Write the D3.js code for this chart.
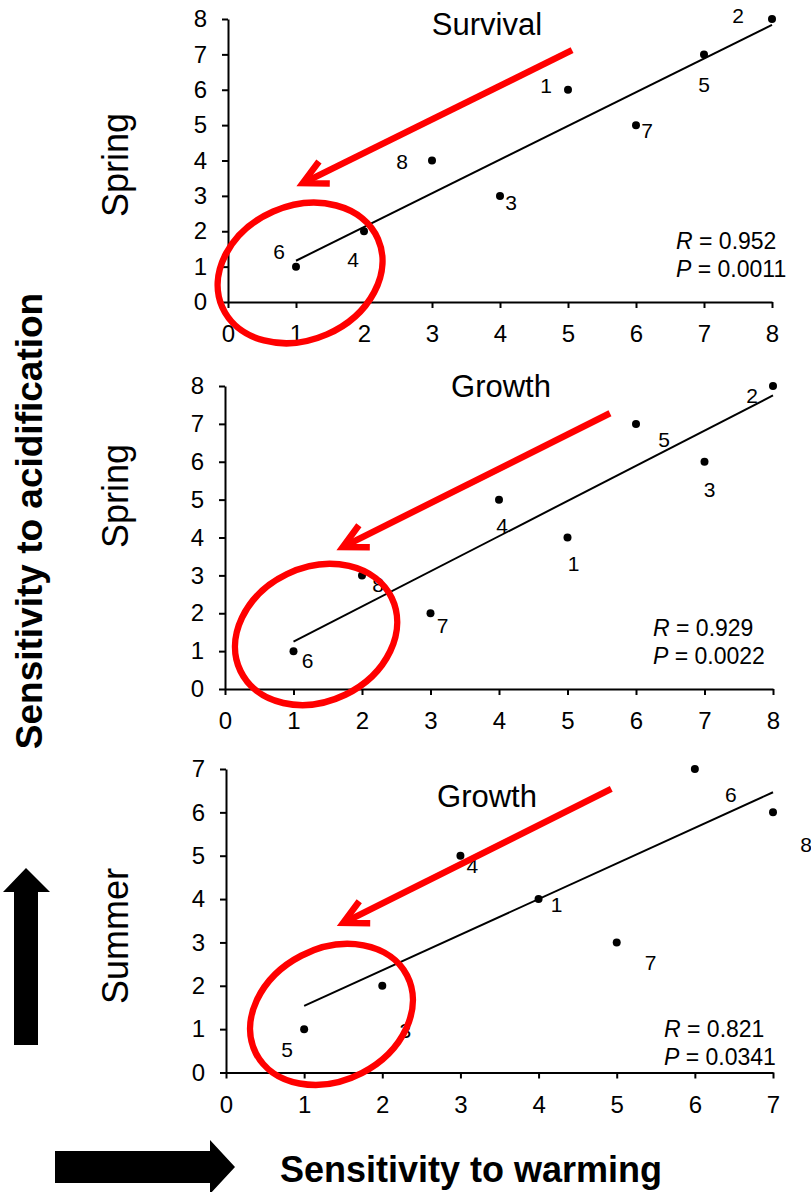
<!DOCTYPE html>
<html>
<head>
<meta charset="utf-8">
<script src="https://cdn.jsdelivr.net/npm/d3@7"></script>
<style>
  body { margin: 0; background: #fff; }
  svg { display: block; font-family: 'Liberation Sans', Arial, sans-serif; }
</style>
</head>
<body>
<svg id="chart"></svg>
<script>
// ranks of each species (label) for warming (x) and acidification (y)
const survivalSpringLabels = ['1', '2', '3', '4', '5', '6', '7', '8'];
const survivalSpringWarming = [5, 8, 4, 2, 7, 1, 6, 3];
const survivalSpringAcid = [6, 8, 3, 2, 7, 1, 5, 4];

const growthSpringLabels = ['1', '2', '3', '4', '5', '6', '7', '8'];
const growthSpringWarming = [5, 8, 7, 4, 6, 1, 3, 2];
const growthSpringAcid = [4, 8, 6, 5, 7, 1, 2, 3];

const growthSummerLabels = ['1', '3', '4', '5', '6', '7', '8'];
const growthSummerWarming = [4, 2, 3, 1, 6, 5, 7];
const growthSummerAcid = [4, 2, 5, 1, 7, 3, 6];

const ticks8 = [0, 1, 2, 3, 4, 5, 6, 7, 8];
const ticks7 = [0, 1, 2, 3, 4, 5, 6, 7];

const panelTitles = ['Survival', 'Growth', 'Growth'];
const seasons = ['Spring', 'Spring', 'Summer'];
const rValues = ['0.952', '0.929', '0.821'];
const pValues = ['0.0011', '0.0022', '0.0341'];

// label placement offsets (px) from each point, same order as the labels
const survivalSpringOffsets = [[-22, 3], [-34, 4], [11, 14], [-11, 36], [0, 38], [-17, -8], [11, 13], [-30, 8]];
const growthSpringOffsets = [[6, 33], [-21, 17], [5, 35], [3, 33], [28, 23], [14, 17], [12, 20], [16, 17]];
const growthSummerOffsets = [[18, 13], [23, 52], [12, 17], [-17, 28], [36, 33], [34, 28], [33, 40]];

const width = 811;
const height = 1192;
const red = '#ff0000';

const svg = d3.select('#chart').attr('width', width).attr('height', height);
svg.append('rect').attr('width', width).attr('height', height).attr('fill', '#fff');

const panels = [
	{
		labels: survivalSpringLabels, xs: survivalSpringWarming, ys: survivalSpringAcid,
		offsets: survivalSpringOffsets, ticks: ticks8, max: 8,
		left: 228, right: 772, bottom: 302, top: 19,
		titleX: 487, titleY: 35, seasonY: 165, statX: 676, statY: 249,
		arrow: { tail: [5.06, 7.12], tip: [1.1, 3.36] },
		ellipse: { c: [1.06, 0.82], rx: 85, ry: 67, rot: -23.6 }
	},
	{
		labels: growthSpringLabels, xs: growthSpringWarming, ys: growthSpringAcid,
		offsets: growthSpringOffsets, ticks: ticks8, max: 8,
		left: 225, right: 773, bottom: 689, top: 386,
		titleX: 501, titleY: 397, seasonY: 496, statX: 653, statY: 636,
		arrow: { tail: [5.62, 7.28], tip: [1.72, 3.75] },
		ellipse: { c: [1.33, 1.44], rx: 84, ry: 67, rot: -25.8 }
	},
	{
		labels: growthSummerLabels, xs: growthSummerWarming, ys: growthSummerAcid,
		offsets: growthSummerOffsets, ticks: ticks7, max: 7,
		left: 226, right: 773, bottom: 1072.5, top: 769,
		titleX: 487, titleY: 807, seasonY: 936, statX: 664, statY: 1037,
		arrow: { tail: [4.93, 6.54], tip: [1.5, 3.45] },
		ellipse: { c: [1.35, 1.34], rx: 85, ry: 66, rot: -27.3 }
	}
];

const linearFit = (xs, ys) => {
	const mx = d3.mean(xs);
	const my = d3.mean(ys);
	const sxy = d3.sum(xs, (v, i) => (v - mx) * (ys[i] - my));
	const sxx = d3.sum(xs, (v) => (v - mx) * (v - mx));
	const slope = sxy / sxx;
	return { slope: slope, intercept: my - slope * mx };
};

const drawPanel = (p, i) => {
	const x = d3.scaleLinear().domain([0, p.max]).range([p.left, p.right]);
	const y = d3.scaleLinear().domain([0, p.max]).range([p.bottom, p.top]);
	const g = svg.append('g');

	const xAxis = g.append('g')
		.attr('transform', `translate(0,${p.bottom})`)
		.call(d3.axisBottom(x).tickValues(p.ticks).tickSize(6).tickSizeOuter(0).tickPadding(17).tickFormat(d3.format('d')));
	const yAxis = g.append('g')
		.attr('transform', `translate(${p.left},0)`)
		.call(d3.axisLeft(y).tickValues(p.ticks).tickSize(6).tickSizeOuter(0).tickPadding(15).tickFormat(d3.format('d')));

	[xAxis, yAxis].forEach((a) => {
		a.select('.domain').attr('stroke', '#000').attr('stroke-width', 2);
		a.selectAll('.tick line').attr('stroke', '#000').attr('stroke-width', 2);
		a.selectAll('.tick text').attr('fill', '#000').attr('font-size', 24)
			.attr('font-family', "'Liberation Sans', Arial, sans-serif");
	});

	// regression line
	const fit = linearFit(p.xs, p.ys);
	const x1 = d3.min(p.xs);
	const x2 = d3.max(p.xs);
	g.append('line')
		.attr('x1', x(x1)).attr('y1', y(fit.intercept + fit.slope * x1))
		.attr('x2', x(x2)).attr('y2', y(fit.intercept + fit.slope * x2))
		.attr('stroke', '#000').attr('stroke-width', 2);

	const pts = p.xs.map((v, k) => ({ x: v, y: p.ys[k], label: p.labels[k], off: p.offsets[k] }));

	g.selectAll('circle.pt')
		.data(pts)
		.enter()
		.append('circle')
		.attr('class', 'pt')
		.attr('cx', (d) => x(d.x))
		.attr('cy', (d) => y(d.y))
		.attr('r', 4)
		.attr('fill', '#000');

	g.selectAll('text.pt-label')
		.data(pts)
		.enter()
		.append('text')
		.attr('class', 'pt-label')
		.attr('x', (d) => x(d.x) + d.off[0])
		.attr('y', (d) => y(d.y) + d.off[1])
		.attr('text-anchor', 'middle')
		.attr('font-size', 21)
		.text((d) => d.label);

	// title
	g.append('text')
		.attr('x', p.titleX)
		.attr('y', p.titleY)
		.attr('text-anchor', 'middle')
		.attr('font-size', 31)
		.text(panelTitles[i]);

	// season label
	g.append('text')
		.attr('transform', `translate(128,${p.seasonY}) rotate(-90)`)
		.attr('text-anchor', 'middle')
		.attr('font-size', 36)
		.text(seasons[i]);

	// R and P
	const rText = g.append('text').attr('x', p.statX).attr('y', p.statY).attr('font-size', 23);
	rText.append('tspan').attr('font-style', 'italic').text('R');
	rText.append('tspan').text(' = ' + rValues[i]);
	const pText = g.append('text').attr('x', p.statX).attr('y', p.statY + 28).attr('font-size', 23);
	pText.append('tspan').attr('font-style', 'italic').text('P');
	pText.append('tspan').text(' = ' + pValues[i]);

	// red annotation: ellipse
	const e = p.ellipse;
	g.append('ellipse')
		.attr('transform', `translate(${x(e.c[0])},${y(e.c[1])}) rotate(${e.rot})`)
		.attr('rx', e.rx)
		.attr('ry', e.ry)
		.attr('fill', 'none')
		.attr('stroke', red)
		.attr('stroke-width', 6.5);

	// red annotation: arrow
	const tail = [x(p.arrow.tail[0]), y(p.arrow.tail[1])];
	const tip = [x(p.arrow.tip[0]), y(p.arrow.tip[1])];
	const ang = Math.atan2(tail[1] - tip[1], tail[0] - tip[0]);
	const armLen = 27;
	const spread = 27 * Math.PI / 180;
	const arm = (s) => [tip[0] + armLen * Math.cos(ang + s), tip[1] + armLen * Math.sin(ang + s)];
	const a1 = arm(-spread);
	const a2 = arm(spread);
	g.append('path')
		.attr('d', `M${tail[0]},${tail[1]}L${tip[0] + 3 * Math.cos(ang)},${tip[1] + 3 * Math.sin(ang)}`)
		.attr('stroke', red).attr('stroke-width', 6.5).attr('fill', 'none');
	g.append('path')
		.attr('d', `M${a1[0]},${a1[1]}L${tip[0]},${tip[1]}L${a2[0]},${a2[1]}`)
		.attr('stroke', red).attr('stroke-width', 6.5).attr('fill', 'none')
		.attr('stroke-linejoin', 'miter');
};

panels.forEach(drawPanel);

// overall axis titles
svg.append('text')
	.attr('transform', 'translate(42,521) rotate(-90)')
	.attr('text-anchor', 'middle')
	.attr('font-size', 37)
	.attr('font-weight', 'bold')
	.text('Sensitivity to acidification');

svg.append('text')
	.attr('x', 471)
	.attr('y', 1182)
	.attr('text-anchor', 'middle')
	.attr('font-size', 36)
	.attr('font-weight', 'bold')
	.text('Sensitivity to warming');

// big black direction arrows
svg.append('path')
	.attr('d', 'M14,1045L38,1045L38,892L50,892L26,868L3,892L14,892Z')
	.attr('fill', '#000');
svg.append('path')
	.attr('d', 'M55,1151L210,1151L210,1140L235,1167L210,1194L210,1183L55,1183Z')
	.attr('fill', '#000');
</script>
</body>
</html>
